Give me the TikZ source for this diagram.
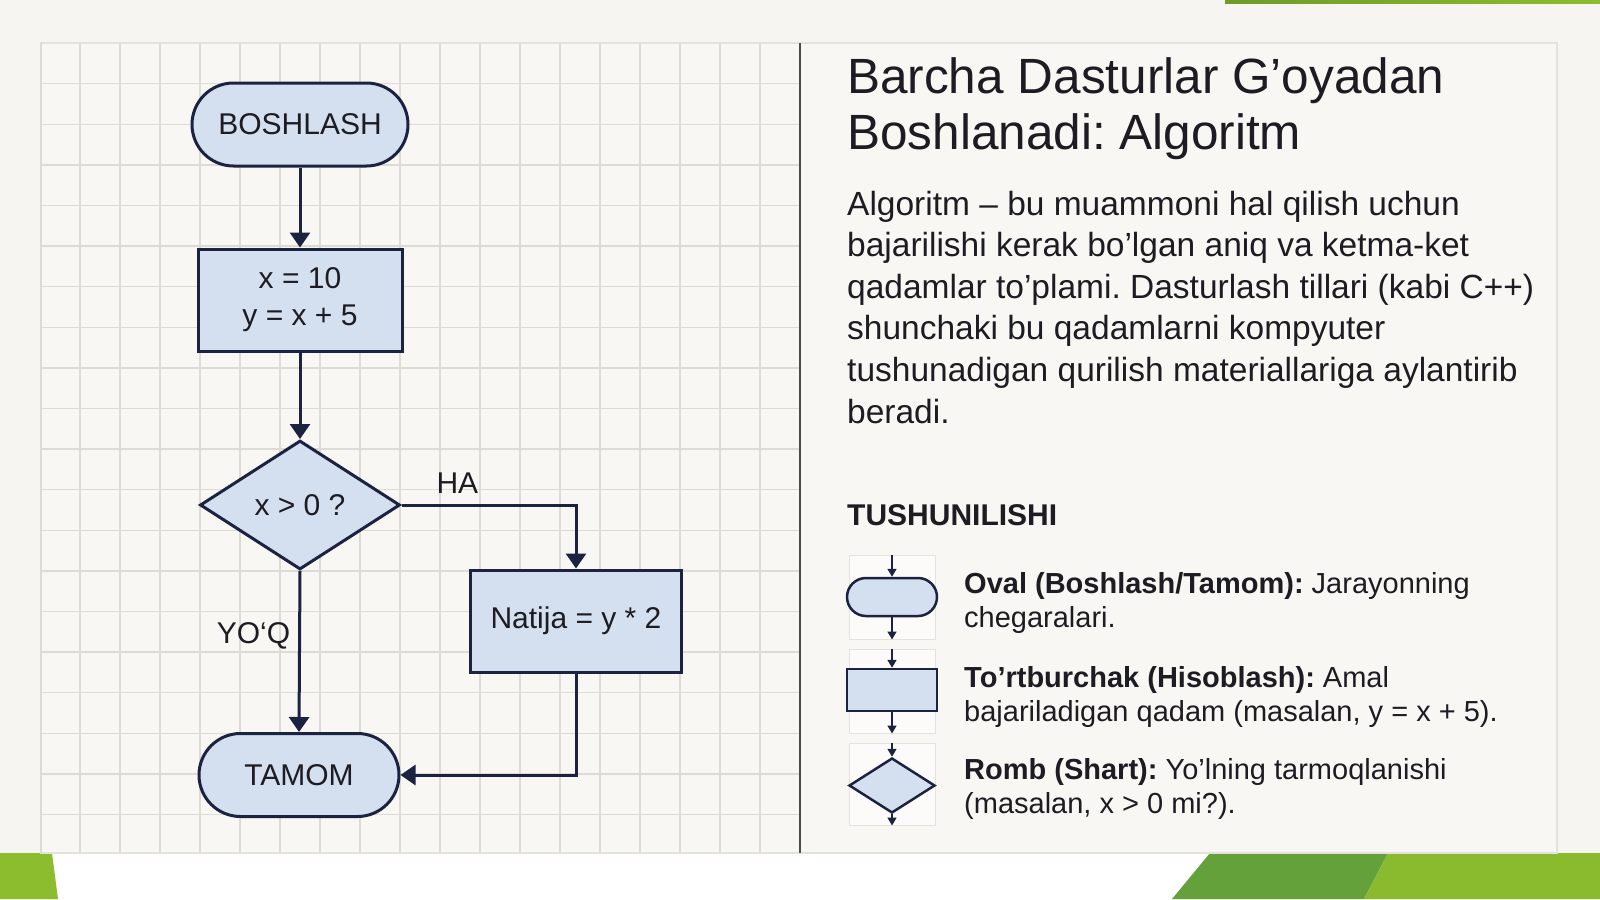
\documentclass[tikz,border=0pt]{standalone}
\usepackage{fontspec}
\setmainfont{Liberation Sans}
\frenchspacing
\usetikzlibrary{arrows.meta, shapes.geometric, shapes.misc}
\definecolor{pagebg}{HTML}{F6F5F1}
\definecolor{panelbg}{HTML}{F8F7F3}
\definecolor{panelline}{HTML}{E3E2DD}
\definecolor{gridline}{HTML}{DCDBD6}
\definecolor{algfill}{HTML}{D4DFF0}
\definecolor{algline}{HTML}{1B2340}
\definecolor{inktext}{HTML}{1C1C22}
\definecolor{leafgreen}{HTML}{8CBD2E}
\definecolor{darkgreen}{HTML}{64A13B}
\definecolor{olivegreen}{HTML}{6F9A28}
\newcommand{\flowsize}{\fontsize{30}{37}\selectfont}
\newcommand{\legsize}{\fontsize{29}{34}\selectfont}
\tikzset{
  algshape/.style = {draw=algline, fill=algfill, line width=3pt, inner sep=0pt,
                     font=\flowsize, text=inktext, align=center},
  algstart/.style = {algshape, rounded rectangle, minimum height=83pt},
  algcalc/.style  = {algshape, rectangle, minimum height=102pt},
  algcond/.style  = {algshape, diamond, aspect=1.55, minimum width=200pt, minimum height=129pt},
  algflow/.style  = {-{Triangle[length=15pt,width=20pt]}, line width=3pt, draw=algline},
  alglabel/.style = {font=\flowsize, text=inktext, inner sep=0pt},
  legcell/.style  = {draw=panelline, fill=white, fill opacity=0.6, line width=1pt,
                     minimum width=86pt, inner sep=0pt},
  legicon/.style  = {draw=algline, fill=algfill, line width=2.5pt, inner sep=0pt},
  legflow/.style  = {-{Triangle[length=8pt,width=9pt]}, line width=1.6pt, draw=algline},
  sidetext/.style = {anchor=base west, align=left, inner sep=0pt, text=inktext},
}

\begin{document}
\begin{tikzpicture}[x=1pt, y=-1pt]
  \useasboundingbox (0,0) rectangle (1600,899);
  % page, panel and coloured strips
  \fill[pagebg] (0,0) rectangle (1600,899);
  \fill[white] (0,853) rectangle (1600,899);
  \shade[left color=olivegreen, right color=leafgreen] (1225,0) rectangle (1600,3.5);
  \fill[leafgreen] (0,853) -- (52,853) -- (58,899) -- (0,899) -- cycle;
  \fill[darkgreen] (1210,853) -- (1388,853) -- (1364,899) -- (1172,899) -- cycle;
  \fill[leafgreen!95!olivegreen] (1388,853) -- (1600,853) -- (1600,899) -- (1364,899) -- cycle;
  \draw[panelline, fill=panelbg, line width=1.2pt] (41,43) rectangle (1557,853);

  % squared paper
  \foreach \gx in {1,...,18}
    \draw[gridline, line width=1.4pt] ({40+40*\gx},43) -- ({40+40*\gx},853);
  \foreach \gy in {1,...,19}
    \draw[gridline, line width=1.4pt] (41,{43+40.6*\gy}) -- (800,{43+40.6*\gy});
  \draw[gridline, line width=1.4pt] (41,43) -- (41,853);
  \draw[black!70, line width=1.8pt] (800,43) -- (800,853);

  % flowchart
  \node[algstart, minimum width=216pt] (start) at (300,124.5) {BOSHLASH};
  \node[algcalc, minimum width=204pt] (calc) at (300,300) {x = 10\\y = x + 5};
  \node[algcond] (cond) at (300,505) {x > 0 ?};
  \node[algcalc, minimum width=211pt] (result) at (576,621) {Natija = y * 2};
  \node[algstart, minimum width=200pt] (finish) at (299,775) {TAMOM};

  \draw[algflow] (start) -- (calc);
  \draw[algflow] (calc) -- (cond);
  \draw[algflow] (cond.east) -| node[alglabel, pos=0.16, above=10pt] (yes) {HA} (result.north);
  \draw[algflow] (cond.south) -- node[alglabel, pos=0.4, left=8pt] (no) {YO‘Q} (finish.north);
  \draw[algflow] (result.south) |- (finish.east);

  % explanation (base = last line)
  \node[sidetext, font=\fontsize{49.5}{56}\selectfont] (title) at (847,149)
    {Barcha Dasturlar G’oyadan\\Boshlanadi: Algoritm};
  \node[sidetext, font=\fontsize{33.5}{41.6}\selectfont] (about) at (847,423)
    {Algoritm – bu muammoni hal qilish uchun\\
     bajarilishi kerak bo’lgan aniq va ketma-ket\\
     qadamlar to’plami. Dasturlash tillari (kabi C++)\\
     shunchaki bu qadamlarni kompyuter\\
     tushunadigan qurilish materiallariga aylantirib\\
     beradi.};
  \node[sidetext, font=\fontsize{30}{36}\selectfont\bfseries] (legend) at (847,525) {TUSHUNILISHI};

  % legend
  \node[legcell, minimum height=84pt] (cellA) at (892,597) {};
  \node[legcell, minimum height=84pt] (cellB) at (892,691) {};
  \node[legcell, minimum height=82pt] (cellC) at (892,784) {};
  \node[legicon, rounded rectangle, minimum width=90pt, minimum height=38pt] (ovalicon) at (892,597) {};
  \node[legicon, rectangle, minimum width=90pt, minimum height=42pt] (recticon) at (892,690) {};
  \node[legicon, diamond, aspect=1.56, minimum width=86pt, minimum height=55pt] (rombicon) at (892,785.5) {};
  \draw[legflow] (cellA.north) -- (ovalicon.north);
  \draw[legflow] (ovalicon.south) -- (cellA.south);
  \draw[legflow] (cellB.north) -- (recticon.north);
  \draw[legflow] (recticon.south) -- (cellB.south);
  \draw[legflow] (cellC.north) -- (rombicon.north);
  \draw[legflow] (rombicon.south) -- (cellC.south);

  \node[sidetext, font=\legsize] (ovaltext) at (964,627)
    {\textbf{Oval (Boshlash/Tamom):} Jarayonning\\chegaralari.};
  \node[sidetext, font=\legsize] (recttext) at (964,721)
    {\textbf{To’rtburchak (Hisoblash):} Amal\\bajariladigan qadam (masalan, y = x + 5).};
  \node[sidetext, font=\legsize] (rombtext) at (964,813)
    {\textbf{Romb (Shart):} Yo’lning tarmoqlanishi\\(masalan, x > 0 mi?).};
\end{tikzpicture}
\end{document}
